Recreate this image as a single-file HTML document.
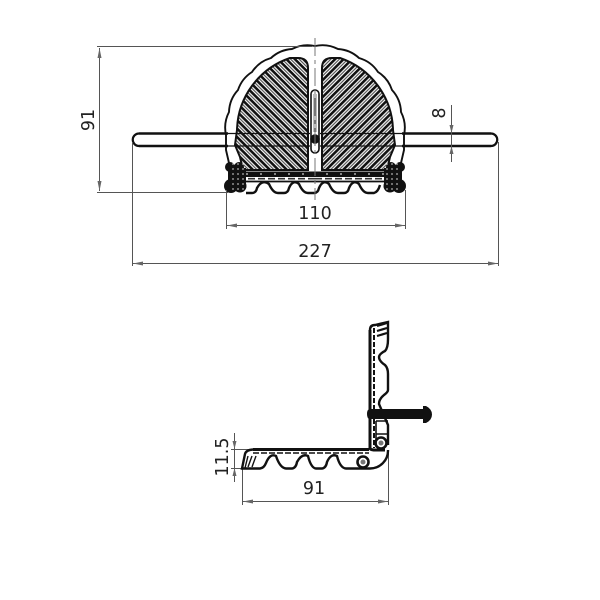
<!DOCTYPE html>
<html><head><meta charset="utf-8"><style>html,body{margin:0;padding:0;background:#fff}svg{display:block}text{font-family:"DejaVu Sans","Liberation Sans",sans-serif;font-size:17.5px;fill:#222;text-anchor:middle}</style></head><body>
<svg width="600" height="600" viewBox="0 0 600 600" xmlns="http://www.w3.org/2000/svg">
<defs>
<pattern id="h" width="6" height="6" patternUnits="userSpaceOnUse" patternTransform="rotate(45)">
<rect width="6" height="6" fill="#fff"/><rect y="0" width="6" height="2.600" fill="#111"/><rect y="3.800" width="6" height="1" fill="#333"/>
</pattern>
<g id="half">
<path d="M308,68Q308,58 298,58L290,58A78,78 0 0 0 237,130L235,145L240,157L243,170L308,170Z" fill="url(#h)" stroke="#111" stroke-width="2"/>
<path d="M315,46A34,34 0 0 0 292,49A34,34 0 0 0 271,58A34,34 0 0 0 252,72A34,34 0 0 0 238,90A34,34 0 0 0 229,112A34,34 0 0 0 226,135L226,150L229,163" fill="none" stroke="#111" stroke-width="1.900"/>
<path d="M139,133.500H228M139,146H228" stroke="#111" stroke-width="2.500" fill="none"/>
<path d="M139,133.500A6.200,6.200 0 0 0 139,146" stroke="#111" stroke-width="2.200" fill="none"/>
<path d="M228,133.500H310M228,146H310" stroke="#111" stroke-width="1.300" fill="none"/>
<rect x="228" y="171.500" width="87" height="5.500" fill="#111"/>
<path d="M228,181.500H315" stroke="#111" stroke-width="1.800" fill="none"/>
<path d="M228,178.700H315" stroke="#333" stroke-width="1.600" fill="none" stroke-dasharray="7 3"/>
<path d="M232,174H315" stroke="#fff" stroke-width="1" fill="none" stroke-dasharray="2 12"/>
<circle cx="230" cy="167" r="5" fill="#111"/><circle cx="239" cy="167" r="5" fill="#111"/>
<circle cx="231" cy="186" r="7" fill="#111"/><circle cx="240" cy="186" r="6.500" fill="#111"/>
<rect x="228" y="168" width="18" height="18" fill="#111"/>
<path d="M233,163V192M238,163V192M243,163V192" stroke="#fff" stroke-width=".8" stroke-dasharray="2 3"/>
</g>
</defs>
<use href="#half"/>
<use href="#half" transform="translate(630,0) scale(-1,1)"/>
<path d="M246,193H252Q256,193 257,188Q262,179 269,184Q273,193 278,193H284Q288,193 289,188Q293,179 299,184Q303,193 308,193H314Q318,193 319,188Q323,179 329,184Q333,193 338,193H344Q348,193 349,188Q353,179 359,184Q363,193 368,193H374Q378,192 380,185" fill="none" stroke="#111" stroke-width="2.400"/>
<path d="M311,94A4,4 0 0 1 319,94V149A4,4 0 0 1 311,149Z" fill="#fff" stroke="#111" stroke-width="1.600"/>
<path d="M314,94V132M316,94V132" stroke="#777" stroke-width="1"/>
<circle cx="315" cy="139" r="4.800" fill="#111"/>
<path d="M315,38V200" stroke="#777" stroke-width="1" stroke-dasharray="18 4 4 4"/>
<g stroke="#555" stroke-width="1" fill="none">
<path d="M97,46.500H312M97,192.500H228M99.500,48V191"/>
<path d="M226.500,190V229M405.500,190V229M227,225.500H405"/>
<path d="M132.500,142V266M498.500,142V266M133,263.500H498"/>
<path d="M451.500,105V162"/>
<path d="M242.500,468V505M388.500,450V505M243,501.500H388"/>
<path d="M231,449.500H253M231,468.500H245M234.500,433V482"/>
</g>
<g fill="#666">
<path d="M99.500,48L97.500,58H101.500ZM99.500,191L97.500,181H101.500Z"/>
<path d="M227,225.500L237,223.500V227.500ZM405,225.500L395,223.500V227.500Z"/>
<path d="M133,263.500L143,261.500V265.500ZM498,263.500L488,261.500V265.500Z"/>
<path d="M451.500,133L449.500,125H453.500ZM451.500,146L449.500,154H453.500Z"/>
<path d="M243,501.500L253,499.500V503.500ZM388,501.500L378,499.500V503.500Z"/>
<path d="M234.500,449L232.500,441H236.500ZM234.500,468L232.500,476H236.500Z"/>
</g>
<text x="315" y="219">110</text>
<text x="315" y="257">227</text>
<text transform="translate(94,120) rotate(-90)">91</text>
<text transform="translate(445,113) rotate(-90)">8</text>
<text x="314" y="494">91</text>
<text transform="translate(228,457) rotate(-90)">11.5</text>
<g fill="none" stroke="#111">
<path d="M253,449.500H369" stroke-width="3"/>
<path d="M253,453H369" stroke-width="1.500" stroke-dasharray="6 2"/>
<path d="M253,449.500Q246,450 245,454L242,468.500H260Q264,468 266,463Q270,453 276,456Q280,468 286,468.500H292Q296,468 297,462Q302,453 308,456Q311,468 316,468.500H322Q326,468 327,462Q331,453 337,456Q340,468 346,468.500H370A18,18 0 0 0 388,450" stroke-width="2.400"/>
<path d="M248,456L245,468M252,456L248,467M256,456L252,467" stroke-width="1.400"/>
<path d="M370,330V448Q370,450 375,450H385" stroke-width="3"/>
<path d="M374,328V448" stroke-width="2" stroke-dasharray="5 2"/>
<path d="M370,330Q370,325 375,325L388,322V339Q388,348 385,351Q379,354 379,357Q379,361 385,365Q388,368 388,374V390Q388,392 384,395Q379,399 379,404L388,425V445" stroke-width="2.400"/>
<path d="M377,326L387,323M377,331L387,328M377,336L387,333" stroke-width="2.200"/>
<path d="M376,421H388M376,434H388M376,421V445" stroke-width="1.600"/>
<circle cx="381" cy="443" r="5.500" stroke-width="2.600"/>
<circle cx="363" cy="462" r="5.500" stroke-width="2.600"/>
</g>
<circle cx="381" cy="443" r="2.500" fill="#777"/><circle cx="363" cy="462" r="2.500" fill="#777"/>
<path d="M367,414Q367,409 370,409H423V406H426Q432,409 432,414.500Q432,420 426,423H423V419H370Q367,419 367,414Z" fill="#111"/>
</svg>
</body></html>
